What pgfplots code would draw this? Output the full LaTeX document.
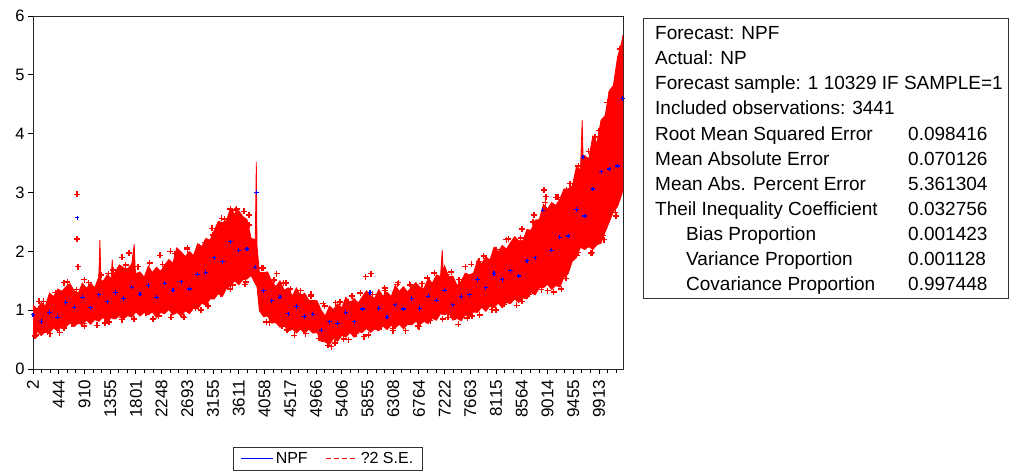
\documentclass[border=0pt]{standalone}
\usepackage{fontspec}
\setmainfont{Liberation Sans}
\usepackage{pgfplots}
\pgfplotsset{compat=1.18}
\begin{document}
\begin{tikzpicture}[x=1pt,y=1pt]
\useasboundingbox (0,0) rectangle (1009,475);
\begin{axis}[
  at={(33pt,106pt)}, anchor=south west,
  scale only axis, width=590pt, height=353pt,
  xmin=0, xmax=3440, ymin=0, ymax=6,
  ytick={0,1,2,3,4,5,6}, yticklabels={0,1,2,3,4,5,6},
  xtick={0,150,...,3300},
  xticklabels={2,444,910,1355,1801,2248,2693,3155,3611,4058,4517,4966,5406,5855,6308,6764,7222,7663,8115,8564,9014,9455,9913},
  minor xtick={0,50,...,3400},
  tick align=outside, xtick pos=bottom, ytick pos=left,
  major tick length=5pt, minor tick length=3.5pt,
  every tick/.style={black, line width=0.9pt},
  axis line style={black!85, line width=1pt},
  tick label style={font=\fontsize{16.5}{16.5}\selectfont, black},
  x tick label style={rotate=90, anchor=east, font=\fontsize{17}{17}\selectfont},
  xticklabel shift={2.5pt},
  /pgf/number format/assume math mode=true,
  legend style={at={(0.5,-0.221)}, anchor=north, legend columns=2,
    draw=black!80, line width=0.8pt, font=\fontsize{16}{16}\selectfont,
    inner xsep=7pt, inner ysep=3pt,
    /tikz/every even column/.append style={column sep=16pt}},
  legend image code/.code={\draw[#1] (0pt,0pt) -- (32pt,0pt);},
]
\addlegendimage{blue, line width=1pt}
\addlegendentry{NPF}
\addlegendimage{red, dash pattern=on 5pt off 3pt, line width=1pt}
\addlegendentry{?2 S.E.}

% +/- 2 S.E. band (upper edge left to right, lower edge right to left)
\addplot[forget plot, fill=red, draw=red, line width=0.8pt] coordinates {
(0,1.09)(24,1.02)(48,1.13)(72,1.07)(96,1.29)(120,1.23)(144,1.36)(168,1.32)(192,1.40)(216,1.45)(240,1.33)(264,1.29)(288,1.46)(312,1.37)(336,1.46)(360,1.38)(384,1.57)(390,2.19)(396,1.52)(408,1.49)(432,1.60)(456,1.54)(462,1.86)(468,1.58)(480,1.66)(504,1.77)(528,1.72)(552,1.70)(576,1.79)(590,2.12)(596,1.70)(600,1.62)(624,1.65)(648,1.56)(672,1.75)(696,1.64)(720,1.73)(744,1.66)(768,1.77)(792,1.86)(816,1.80)(838,2.06)(864,1.99)(888,1.91)(912,2.00)(936,1.93)(960,2.13)(984,2.08)(1008,2.22)(1032,2.19)(1056,2.35)(1080,2.51)(1104,2.49)(1128,2.52)(1152,2.74)(1176,2.63)(1200,2.69)(1224,2.59)(1248,2.54)(1272,2.22)(1296,2.20)(1302,3.52)(1306,2.10)(1320,1.64)(1344,1.64)(1368,1.65)(1392,1.49)(1416,1.40)(1440,1.50)(1464,1.34)(1488,1.38)(1512,1.24)(1536,1.38)(1560,1.24)(1584,1.29)(1608,1.17)(1632,1.17)(1656,1.16)(1680,1.00)(1704,0.90)(1728,1.07)(1752,1.01)(1776,1.11)(1800,1.04)(1824,1.22)(1848,1.12)(1872,1.20)(1896,1.12)(1920,1.23)(1944,1.33)(1968,1.25)(1992,1.20)(2016,1.35)(2040,1.24)(2064,1.31)(2088,1.23)(2112,1.42)(2136,1.32)(2160,1.40)(2184,1.31)(2208,1.40)(2232,1.47)(2256,1.39)(2280,1.37)(2304,1.54)(2328,1.46)(2352,1.60)(2376,1.57)(2386,2.02)(2392,1.65)(2400,1.75)(2424,1.57)(2448,1.58)(2472,1.42)(2496,1.49)(2520,1.63)(2544,1.60)(2568,1.63)(2592,1.85)(2616,1.79)(2640,1.91)(2664,1.85)(2688,2.07)(2712,1.99)(2736,2.10)(2760,2.04)(2784,2.15)(2808,2.25)(2832,2.18)(2856,2.18)(2880,2.37)(2904,2.36)(2928,2.53)(2952,2.54)(2976,2.80)(3000,2.72)(3024,2.83)(3048,2.78)(3072,2.89)(3096,3.06)(3120,3.06)(3144,3.11)(3168,3.43)(3192,3.39)(3202,4.23)(3208,3.50)(3216,3.63)(3240,3.57)(3264,3.96)(3288,3.84)(3312,4.23)(3336,4.31)(3360,4.73)(3384,4.82)(3408,5.30)(3432,5.55)(3440,5.68)
(3440,3.05)(3432,2.96)(3408,2.76)(3384,2.67)(3360,2.50)(3336,2.33)(3312,2.14)(3288,2.11)(3264,2.03)(3240,2.08)(3216,2.03)(3192,2.07)(3168,1.89)(3144,1.83)(3120,1.62)(3096,1.56)(3072,1.39)(3048,1.42)(3024,1.35)(3000,1.44)(2976,1.38)(2952,1.38)(2928,1.26)(2904,1.30)(2880,1.19)(2856,1.21)(2832,1.13)(2808,1.19)(2784,1.11)(2760,1.13)(2736,1.04)(2712,1.12)(2688,1.04)(2664,1.07)(2640,0.98)(2616,1.05)(2592,0.96)(2568,0.97)(2544,0.88)(2520,0.92)(2496,0.82)(2472,0.86)(2448,0.83)(2424,0.95)(2400,0.92)(2376,0.94)(2352,0.83)(2328,0.86)(2304,0.77)(2280,0.81)(2256,0.75)(2232,0.81)(2208,0.75)(2184,0.76)(2160,0.68)(2136,0.76)(2112,0.70)(2088,0.74)(2064,0.67)(2040,0.73)(2016,0.65)(1992,0.68)(1968,0.62)(1944,0.69)(1920,0.62)(1896,0.63)(1872,0.54)(1848,0.62)(1824,0.54)(1800,0.57)(1776,0.47)(1752,0.52)(1728,0.41)(1704,0.46)(1680,0.47)(1656,0.62)(1632,0.61)(1608,0.68)(1584,0.60)(1560,0.68)(1536,0.61)(1512,0.68)(1488,0.64)(1464,0.74)(1440,0.71)(1416,0.79)(1392,0.78)(1368,0.90)(1344,0.89)(1320,0.99)(1306,1.40)(1296,1.45)(1272,1.59)(1248,1.53)(1224,1.52)(1200,1.43)(1176,1.50)(1152,1.41)(1128,1.37)(1104,1.23)(1080,1.28)(1056,1.19)(1032,1.19)(1008,1.08)(984,1.12)(960,1.02)(936,1.03)(912,0.94)(888,0.99)(864,0.90)(840,0.96)(816,0.92)(792,1.01)(768,0.94)(744,0.96)(720,0.87)(696,0.97)(672,0.92)(648,0.96)(624,0.90)(600,0.97)(576,0.88)(552,0.91)(528,0.85)(504,0.91)(480,0.85)(456,0.87)(432,0.79)(408,0.88)(384,0.81)(360,0.84)(336,0.76)(312,0.83)(288,0.75)(264,0.78)(240,0.72)(216,0.78)(192,0.72)(168,0.73)(144,0.64)(120,0.70)(96,0.62)(72,0.64)(48,0.57)(24,0.64)(0,0.57)(0,1.09)
};

% scattered band points (red +)
\addplot[forget plot, only marks, mark=+, mark size=3pt, red, line width=1.4pt] coordinates {
(257,2.97)(257,2.21)(262,1.74)(60,1.15)(130,1.30)(200,1.48)(300,1.52)(440,1.62)(520,1.90)(560,1.97)(680,1.80)(740,1.93)(800,2.00)(900,2.06)(1000,2.15)(1050,2.28)(1100,2.56)(1150,2.72)(1180,2.70)(1230,2.68)(1260,2.62)(1340,1.72)(1420,1.62)(1460,1.46)(1500,1.36)(1560,1.33)(1620,1.27)(1700,1.07)(1790,1.14)(1860,1.24)(1940,1.57)(1970,1.62)(2050,1.38)(2130,1.47)(2200,1.42)(2300,1.55)(2440,1.65)(2520,1.74)(2600,1.83)(2700,2.03)(2760,2.20)(2850,2.38)(2920,2.62)(2980,3.04)(2990,2.93)(3050,2.92)(3110,3.05)(3180,3.45)(3240,3.70)(3300,4.05)(3370,4.70)
(20,0.58)(100,0.60)(180,0.70)(300,0.73)(420,0.78)(520,0.84)(700,0.85)(880,0.88)(980,1.00)(1150,1.36)(1240,1.48)(1360,0.80)(1480,0.66)(1590,0.60)(1680,0.55)(1720,0.40)(1760,0.44)(1840,0.50)(1930,0.55)(2100,0.65)(2250,0.72)(2420,0.88)(2480,0.76)(2560,0.90)(2700,1.00)(2850,1.15)(3000,1.33)(3080,1.36)(3170,1.93)(3260,1.98)(3330,2.20)(3400,2.60)
(36,1.15)(108,1.23)(180,1.47)(252,1.35)(324,1.47)(396,1.60)(468,1.68)(540,1.77)(612,1.74)(684,1.64)(756,1.78)(828,1.96)(900,2.03)(972,2.07)(1044,2.39)(1116,2.55)(1188,2.72)(1260,2.45)(1332,1.72)(1404,1.51)(1476,1.46)(1548,1.26)(1620,1.24)(1692,1.11)(1764,1.13)(1836,1.14)(1908,1.29)(1980,1.27)(2052,1.33)(2124,1.44)(2196,1.44)(2268,1.45)(2340,1.63)(2412,1.61)(2484,1.52)(2556,1.78)(2628,1.92)(2700,2.00)(2772,2.21)(2844,2.23)(2916,2.50)(2988,2.83)(3060,2.92)(3132,3.15)(3276,3.94)(3348,4.53)(3420,5.44)
(12,0.56)(84,0.63)(156,0.62)(228,0.77)(300,0.77)(372,0.74)(444,0.80)(516,0.88)(588,0.85)(660,0.96)(732,0.90)(804,0.88)(876,0.89)(948,1.03)(1020,1.07)(1092,1.28)(1164,1.43)(1236,1.44)(1380,0.79)(1452,0.73)(1524,0.57)(1596,0.68)(1668,0.52)(1740,0.38)(1812,0.51)(1884,0.60)(1956,0.58)(2028,0.72)(2100,0.69)(2172,0.65)(2244,0.73)(2316,0.82)(2388,0.85)(2460,0.88)(2532,0.87)(2604,0.92)(2676,1.01)(2748,1.10)(2820,1.08)(2892,1.27)(2964,1.35)(3036,1.31)(3108,1.54)(3180,1.98)(3252,1.97)(3324,2.27)(3396,2.66)
};

% NPF forecast (blue)
\addplot[forget plot, only marks, mark=+, mark size=2.2pt, blue, line width=1.1pt] coordinates {
(0,0.92)(48,0.81)(96,0.96)(144,0.88)(192,1.13)(240,1.05)(257,2.57)(288,1.22)(336,1.04)(384,1.26)(432,1.14)(480,1.30)(528,1.20)(576,1.39)(624,1.27)(672,1.42)(720,1.22)(768,1.46)(816,1.34)(864,1.48)(912,1.36)(960,1.61)(1008,1.64)(1056,1.89)(1104,1.82)(1152,2.16)(1200,2.02)(1248,2.04)(1296,1.73)(1302,3.00)(1344,1.33)(1392,1.16)(1440,1.22)(1488,0.94)(1536,1.06)(1584,0.89)(1632,0.93)(1680,0.66)(1728,0.80)(1776,0.78)(1824,0.96)(1872,0.80)(1920,1.02)(1965,1.30)(2016,1.03)(2064,0.88)(2112,1.09)(2160,1.02)(2208,1.20)(2256,1.03)(2304,1.24)(2352,1.17)(2400,1.34)(2448,1.09)(2496,1.23)(2544,1.26)(2592,1.52)(2640,1.38)(2688,1.62)(2736,1.52)(2784,1.67)(2832,1.58)(2880,1.84)(2928,1.89)(2973,2.70)(3024,2.02)(3072,2.24)(3120,2.26)(3168,2.71)(3207,3.60)(3216,2.60)(3264,3.06)(3312,3.35)(3360,3.40)(3408,3.45)(3436,4.60)
};
\end{axis}

% statistics box
\draw[black!80, line width=0.9pt] (643,177) rectangle (1008,457);
\begin{scope}[every node/.style={anchor=base west, inner sep=0pt, font=\fontsize{19}{19}\selectfont}]
\node at (655,435) {Forecast: NPF};
\node at (655,410) {Actual: NP};
\node at (655,385) {Forecast sample: 1 10329 IF SAMPLE=1};
\node at (655,360) {Included observations: 3441};
\node at (655,335) {Root Mean Squared Error};
\node at (655,310) {Mean Absolute Error};
\node at (655,285) {Mean Abs. Percent Error};
\node at (655,260) {Theil Inequality Coefficient};
\node at (686,235) {Bias Proportion};
\node at (686,210) {Variance Proportion};
\node at (686,185) {Covariance Proportion};
\node at (908,335) {0.098416};
\node at (908,310) {0.070126};
\node at (908,285) {5.361304};
\node at (908,260) {0.032756};
\node at (908,235) {0.001423};
\node at (908,210) {0.001128};
\node at (908,185) {0.997448};
\end{scope}
\end{tikzpicture}
\end{document}
